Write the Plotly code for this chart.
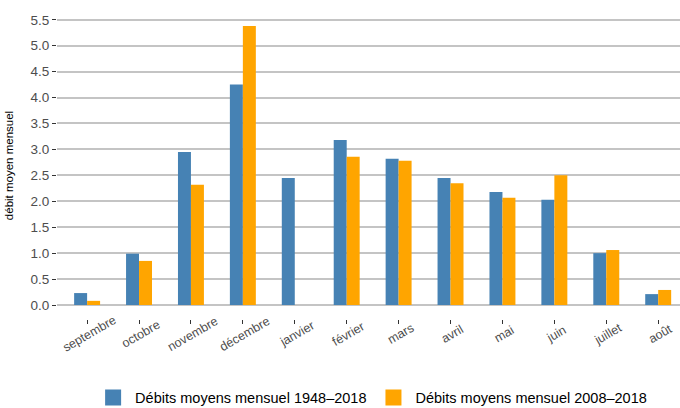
import plotly.graph_objects as go

# Monthly mean discharge
mois = ['septembre', 'octobre', 'novembre', 'décembre', 'janvier', 'février',
        'mars', 'avril', 'mai', 'juin', 'juillet', 'août']
debit_1948_2018 = [0.23, 0.99, 2.95, 4.25, 2.45, 3.18, 2.82, 2.45, 2.18, 2.03, 1.00, 0.21]
debit_2008_2018 = [0.08, 0.85, 2.32, 5.38, None, 2.86, 2.78, 2.35, 2.07, 2.50, 1.06, 0.29]
y_ticks = [0.0, 0.5, 1.0, 1.5, 2.0, 2.5, 3.0, 3.5, 4.0, 4.5, 5.0, 5.5]

noms = ['Débits moyens mensuel 1948–2018', 'Débits moyens mensuel 2008–2018']
couleurs = ['#4682B4', '#FFA500']

fig = go.Figure()
for nom, couleur, valeurs in zip(noms, couleurs, [debit_1948_2018, debit_2008_2018]):
    fig.add_trace(go.Bar(x=mois, y=valeurs, name=nom, showlegend=False,
                         marker=dict(color=couleur, line=dict(width=0))))

# legend keys: big squares like ggplot
for nom, couleur in zip(noms, couleurs):
    fig.add_trace(go.Scatter(x=[None], y=[None], mode='markers', name=nom,
                             marker=dict(symbol='square', size=18, color=couleur)))

# white vertical lines at category centres (ggplot major x grid)
for m in mois:
    fig.add_shape(type='line', xref='x', yref='paper', x0=m, x1=m, y0=0, y1=1,
                  line=dict(color='white', width=2), layer='between')

# x labels rotated around their centre (ggplot angle=30, hjust=0.5)
for m in mois:
    fig.add_annotation(x=m, y=0, xref='x', yref='paper', text=m, showarrow=False,
                       textangle=-30, xanchor='center', yanchor='middle',
                       xshift=2, yshift=-15,
                       font=dict(size=12.5, color='#4d4d4d'))

fig.update_layout(
    width=680,
    height=408,
    barmode='group',
    bargap=0.5,
    bargroupgap=0,
    plot_bgcolor='white',
    paper_bgcolor='white',
    font=dict(family='Liberation Sans, Arial, sans-serif', color='#4d4d4d'),
    margin=dict(l=57, r=0, t=12, b=89, autoexpand=False),
    legend=dict(orientation='h', x=0.505, xanchor='center', y=-0.256, yanchor='middle',
                font=dict(size=14.5, color='black'), itemsizing='trace',
                traceorder='normal', itemwidth=34),
    showlegend=True,
)

fig.update_xaxes(
    range=[-0.58, 11.42],
    showgrid=False,
    ticks='outside',
    ticklen=4,
    tickcolor='#333333',
    showticklabels=False,
    showline=False,
    zeroline=False,
    automargin=False,
)
fig.update_yaxes(
    range=[-0.27, 5.65],
    tickvals=y_ticks,
    ticktext=['%.1f' % v for v in y_ticks],
    showgrid=True,
    gridcolor='#c4c4c4',
    gridwidth=1.6,
    ticks='outside',
    ticklen=4,
    tickcolor='#333333',
    tickfont=dict(size=13.5, color='#4d4d4d'),
    title=dict(text='débit moyen mensuel', font=dict(size=11.5, color='black'), standoff=14),
    zeroline=False,
    showline=False,
    automargin=False,
)

# drop the default page margin so the figure sits at the window's corner
fig.write_html("out.html", config={'displayModeBar': False},
               post_script="document.body.style.margin='0';")
